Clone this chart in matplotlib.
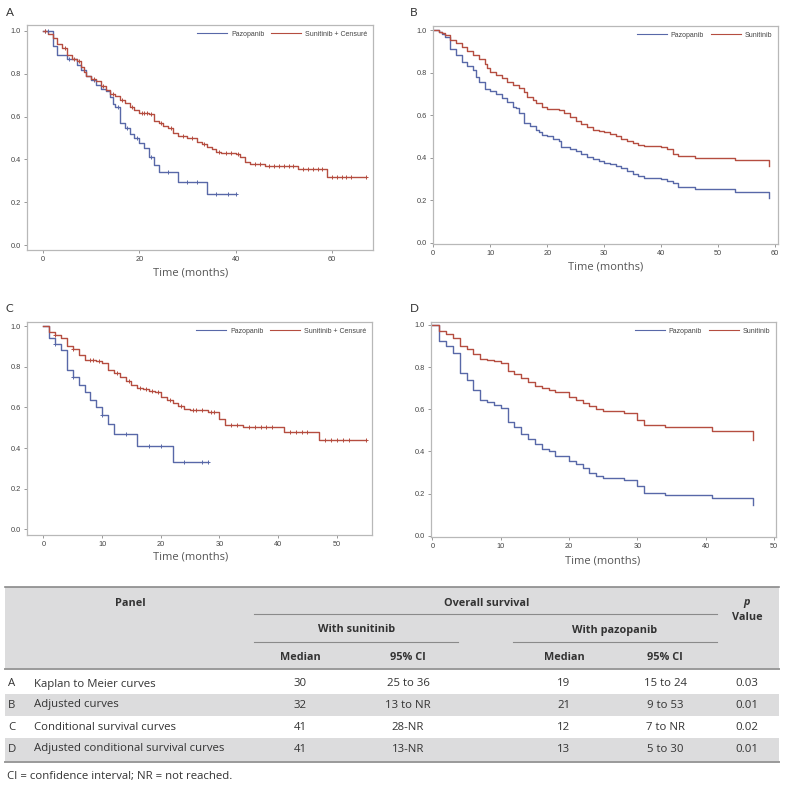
import numpy as np
import matplotlib
matplotlib.use("Agg")
import matplotlib.pyplot as plt
from matplotlib.lines import Line2D

W, H = 787, 789

# ---- panel A: Kaplan-Meier
a_paz_t = [0, 2, 3, 5, 7, 8, 9, 10, 11, 12, 13, 14, 14.5, 15, 16, 17, 18, 19, 20, 21, 22, 23, 24, 28, 34, 40]
a_paz_s = [1.0, 0.93, 0.89, 0.87, 0.84, 0.82, 0.79, 0.77, 0.75, 0.73, 0.72, 0.69, 0.66, 0.645, 0.57, 0.545,
           0.52, 0.50, 0.475, 0.455, 0.41, 0.375, 0.34, 0.295, 0.238, 0.238]
a_paz_cens = [0.5, 1, 5.5, 10.5, 15.5, 17.5, 19.5, 22.5, 26, 30, 32, 36, 38.5, 40]
a_sun_t = [0, 1, 2, 3, 4, 5, 6, 7, 8, 8.5, 9, 10, 11, 12, 13, 14, 15, 16, 17, 18, 19, 20, 22, 23, 24, 25, 26,
           27, 28, 30, 32, 33, 34, 35, 36, 37, 40, 41, 42, 43, 46, 53, 59, 67]
a_sun_s = [1.0, 0.985, 0.965, 0.94, 0.92, 0.89, 0.87, 0.86, 0.83, 0.81, 0.79, 0.775, 0.765, 0.745, 0.725, 0.705,
           0.695, 0.68, 0.665, 0.645, 0.63, 0.615, 0.61, 0.58, 0.57, 0.555, 0.545, 0.525, 0.51, 0.50, 0.48, 0.47,
           0.46, 0.45, 0.435, 0.43, 0.425, 0.41, 0.39, 0.38, 0.37, 0.355, 0.32, 0.32]
a_sun_cens = [0.5, 4.5, 6.5, 7.5, 10.5, 12.5, 14.5, 16.5, 18.5, 20.5, 21, 21.5, 22.5, 24.5, 26.5, 29, 31, 33.5,
              36.5, 38, 39, 40.5, 44, 45, 47, 48, 49, 50, 51, 52, 54, 55, 56, 57, 58, 60, 61, 62, 63, 64, 67]

# ---- panel B: adjusted curves
b_sun_t = [0, 1, 1.5, 2, 3, 4, 5, 6, 7, 8, 9, 9.5, 10, 11, 12, 13, 14, 15, 16, 16.5, 17.5, 18, 19, 20, 22, 23,
           24, 25, 26, 27, 28, 29, 30, 31, 32, 33, 34, 35, 36, 37, 40, 41, 42, 43, 46, 53, 59]
b_sun_s = [1.0, 0.99, 0.985, 0.975, 0.955, 0.94, 0.92, 0.90, 0.885, 0.865, 0.84, 0.82, 0.805, 0.79, 0.775, 0.755,
           0.74, 0.73, 0.71, 0.685, 0.67, 0.655, 0.64, 0.63, 0.625, 0.61, 0.59, 0.575, 0.56, 0.545, 0.53, 0.525,
           0.52, 0.51, 0.50, 0.49, 0.48, 0.47, 0.46, 0.455, 0.45, 0.44, 0.42, 0.41, 0.40, 0.39, 0.36]
b_paz_t = [0, 1, 1.5, 2, 3, 4, 5, 6, 7, 7.5, 8, 9, 10, 11, 12, 13, 14, 14.5, 15, 16, 17, 18, 18.5, 19, 20, 21,
           22, 22.5, 24, 25, 26, 27, 28, 29, 30, 31, 32, 33, 34, 35, 36, 37, 40, 41, 42, 43, 46, 53, 59]
b_paz_s = [1.0, 0.99, 0.98, 0.965, 0.91, 0.885, 0.85, 0.83, 0.81, 0.78, 0.755, 0.725, 0.715, 0.70, 0.68, 0.66,
           0.64, 0.635, 0.61, 0.565, 0.55, 0.53, 0.52, 0.505, 0.50, 0.49, 0.48, 0.45, 0.44, 0.43, 0.42, 0.405,
           0.395, 0.385, 0.375, 0.37, 0.36, 0.35, 0.34, 0.325, 0.315, 0.305, 0.30, 0.29, 0.28, 0.265, 0.255,
           0.24, 0.21]

# ---- panel C: conditional survival
c_sun_t = [0, 1, 2, 3, 4, 5, 6, 7, 9, 10, 11, 12, 13, 14, 15, 16, 17, 18, 19, 20, 21, 22, 23, 24, 25, 28, 30,
           31, 34, 41, 47, 55]
c_sun_s = [1.0, 0.97, 0.955, 0.94, 0.90, 0.885, 0.86, 0.835, 0.83, 0.82, 0.785, 0.77, 0.75, 0.73, 0.71, 0.695,
           0.69, 0.68, 0.675, 0.65, 0.635, 0.62, 0.605, 0.59, 0.585, 0.575, 0.545, 0.515, 0.505, 0.48, 0.44, 0.44]
c_sun_cens = [2, 5, 8, 8.5, 9.5, 12.5, 14.5, 16.5, 17.5, 18.5, 19.5, 21.5, 23.5, 25.5, 26, 27, 28.5, 29, 32, 33,
              35, 36, 37, 38, 39, 42, 43, 44, 45, 48, 49, 50, 51, 52, 55]
c_paz_t = [0, 1, 2, 3, 4, 5, 6, 7, 8, 9, 10, 11, 12, 16, 22, 28]
c_paz_s = [1.0, 0.94, 0.91, 0.88, 0.785, 0.75, 0.71, 0.675, 0.635, 0.60, 0.56, 0.52, 0.47, 0.41, 0.33, 0.33]
c_paz_cens = [2, 5, 10, 14, 18, 20, 24, 27, 28]

# ---- panel D: adjusted conditional survival
d_sun_t = [0, 1, 2, 3, 4, 5, 6, 7, 8, 9, 10, 11, 12, 13, 14, 15, 16, 17, 18, 20, 21, 22, 23, 24, 25, 28, 30,
           31, 34, 41, 47]
d_sun_s = [1.0, 0.97, 0.955, 0.94, 0.90, 0.885, 0.86, 0.84, 0.835, 0.83, 0.82, 0.78, 0.765, 0.75, 0.73, 0.71,
           0.70, 0.69, 0.68, 0.66, 0.645, 0.63, 0.615, 0.60, 0.59, 0.58, 0.55, 0.525, 0.515, 0.495, 0.455]
d_paz_t = [0, 1, 2, 3, 4, 5, 6, 7, 8, 9, 10, 11, 12, 13, 14, 15, 16, 17, 18, 20, 21, 22, 23, 24, 25, 28, 30,
           31, 34, 41, 47]
d_paz_s = [1.0, 0.925, 0.90, 0.865, 0.77, 0.74, 0.69, 0.645, 0.635, 0.62, 0.605, 0.54, 0.515, 0.485, 0.46,
           0.435, 0.41, 0.40, 0.38, 0.355, 0.34, 0.32, 0.30, 0.285, 0.275, 0.265, 0.235, 0.205, 0.195, 0.18, 0.145]

# ---- table
panel_ids = ["A", "B", "C", "D"]
panel_names = ["Kaplan to Meier curves", "Adjusted curves", "Conditional survival curves",
               "Adjusted conditional survival curves"]
sun_median = ["30", "32", "41", "41"]
sun_ci = ["25 to 36", "13 to NR", "28-NR", "13-NR"]
paz_median = ["19", "21", "12", "13"]
paz_ci = ["15 to 24", "9 to 53", "7 to NR", "5 to 30"]
p_values = ["0.03", "0.01", "0.02", "0.01"]

BLUE = "#5868a8"
RED = "#b54d40"
TXT = "#333333"
TAB_FONT = "Open Sans"
PLOT_FONT = "Liberation Sans"

fig = plt.figure(figsize=(W / 100, H / 100), dpi=100)


def box(l, t, r, b):
    return [l / W, 1 - b / H, (r - l) / W, (b - t) / H]


def surv_at(times, surv, x):
    i = np.searchsorted(times, x, side="right") - 1
    return np.array(surv)[i]


def km_panel(rect, xlim, ylim, xticks, curves, censor, letter, letter_xy, label_xy):
    ax = fig.add_axes(box(*rect))
    for t, s, c, name in curves:
        ax.step(t, s, where="post", color=c, lw=1.0)
    handles = [Line2D([], [], color=BLUE, lw=0.8), Line2D([], [], color=RED, lw=0.8)]
    labels = ["Pazopanib", "Sunitinib"]
    if censor:
        for t, s, c, cens in censor:
            ax.plot(cens, surv_at(t, s, cens), ls="none", marker="+", ms=3.5, mew=0.7, color=c)
        labels[1] = "Sunitinib + Censuré"
    leg = ax.legend(handles, labels, loc="upper right", ncol=2, frameon=False,
                    prop={"family": PLOT_FONT, "size": 5}, handlelength=4.3, columnspacing=1.0,
                    handletextpad=0.6, borderaxespad=0.4)
    for txt in leg.get_texts():
        txt.set_color("#444444")
    ax.set_xlim(*xlim)
    ax.set_ylim(*ylim)
    ax.set_xticks(xticks)
    ax.set_yticks([0, 0.2, 0.4, 0.6, 0.8, 1.0])
    ax.set_yticklabels(["0.0", "0.2", "0.4", "0.6", "0.8", "1.0"])
    ax.tick_params(length=2.5, width=0.6, color="#888888", labelsize=5.3, labelcolor="#444444", pad=2)
    for lab in ax.get_xticklabels() + ax.get_yticklabels():
        lab.set_family(PLOT_FONT)
    for sp in ax.spines.values():
        sp.set_color("#b8b8b8")
        sp.set_linewidth(0.9)
    fig.text(label_xy[0] / W, 1 - label_xy[1] / H, "Time (months)", ha="center", va="center",
             fontsize=8, color="#555555", family="Open Sans")
    fig.text(letter_xy[0] / W, 1 - letter_xy[1] / H, letter, ha="left", va="center",
             fontsize=8.5, color=TXT, family="Lato")
    return ax


km_panel((27, 25, 373, 250), (-3.3, 68.5), (-0.023, 1.028), [0, 20, 40, 60],
         [(a_paz_t, a_paz_s, BLUE, "Pazopanib"), (a_sun_t, a_sun_s, RED, "Sunitinib")],
         [(a_paz_t, a_paz_s, BLUE, a_paz_cens), (a_sun_t, a_sun_s, RED, a_sun_cens)],
         "A", (6, 12), (191, 273))
km_panel((433, 26, 778, 244), (-0.05, 60.5), (-0.005, 1.019), [0, 10, 20, 30, 40, 50, 60],
         [(b_paz_t, b_paz_s, BLUE, "Pazopanib"), (b_sun_t, b_sun_s, RED, "Sunitinib")],
         None, "B", (410, 12), (606, 267))
km_panel((27, 322, 372, 535), (-2.8, 56), (-0.028, 1.02), [0, 10, 20, 30, 40, 50],
         [(c_paz_t, c_paz_s, BLUE, "Pazopanib"), (c_sun_t, c_sun_s, RED, "Sunitinib")],
         [(c_paz_t, c_paz_s, BLUE, c_paz_cens), (c_sun_t, c_sun_s, RED, c_sun_cens)],
         "C", (6, 308), (191, 557))
km_panel((431, 322, 776, 537), (-0.2, 50.3), (-0.006, 1.014), [0, 10, 20, 30, 40, 50],
         [(d_paz_t, d_paz_s, BLUE, "Pazopanib"), (d_sun_t, d_sun_s, RED, "Sunitinib")],
         None, "D", (410, 309), (603, 561))

# ---- table in pixel coordinates
tab = fig.add_axes([0, 0, 1, 1], zorder=-1)
tab.set_xlim(0, W)
tab.set_ylim(H, 0)
tab.axis("off")

GRAY = "#dcdcdd"
tab.fill_between([5, 779], 587, 669, color=GRAY, lw=0)
row_y = [684, 705, 727, 749]
row_top = [669, 694, 716, 738]
row_bot = [694, 716, 738, 762]
for i in range(4):
    if i % 2 == 1:
        tab.fill_between([5, 779], row_top[i], row_bot[i], color=GRAY, lw=0)
tab.plot([5, 779], [587, 587], color="#8a8a8a", lw=1.2)
tab.plot([5, 779], [669, 669], color="#9a9a9a", lw=1.4)
tab.plot([5, 779], [762, 762], color="#9a9a9a", lw=1.4)
tab.plot([254, 717], [614, 614], color="#8a8a8a", lw=0.8)
tab.plot([254, 458], [642, 642], color="#8a8a8a", lw=0.8)
tab.plot([513, 717], [642, 642], color="#8a8a8a", lw=0.8)

FS_H = 7.8
FS_B = 8.2
hdr = dict(ha="center", va="center", fontsize=FS_H, color=TXT, family=TAB_FONT, fontweight="bold")
tab.text(130, 603, "Panel", **hdr)
tab.text(487, 603, "Overall survival", **hdr)
tab.text(357, 630, "With sunitinib", **hdr)
tab.text(615, 630, "With pazopanib", **hdr)
tab.text(300, 657, "Median", **hdr)
tab.text(408, 657, "95% CI", **hdr)
tab.text(564, 657, "Median", **hdr)
tab.text(665, 657, "95% CI", **hdr)
tab.text(747, 603, "p", ha="center", va="center", fontsize=FS_H, color=TXT, family=TAB_FONT,
         fontweight="bold", fontstyle="italic")
tab.text(747, 618, "Value", **hdr)

body = dict(va="center", fontsize=FS_B, color=TXT, family=TAB_FONT)
for i in range(4):
    y = row_y[i]
    tab.text(8, y, panel_ids[i], ha="left", **body)
    tab.text(34, y, panel_names[i], ha="left", **body)
    tab.text(300, y, sun_median[i], ha="center", **body)
    tab.text(408, y, sun_ci[i], ha="center", **body)
    tab.text(564, y, paz_median[i], ha="center", **body)
    tab.text(665, y, paz_ci[i], ha="center", **body)
    tab.text(747, y, p_values[i], ha="center", **body)

tab.text(7, 776, "CI = confidence interval; NR = not reached.", ha="left", **body)

fig.savefig("out.png", dpi=100)
